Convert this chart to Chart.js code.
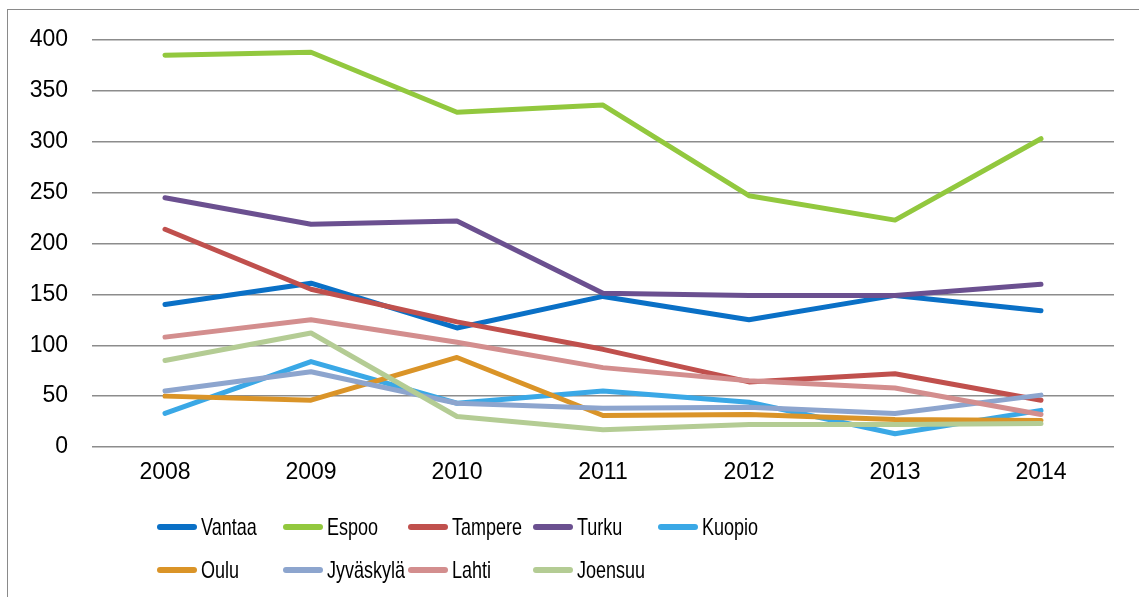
<!DOCTYPE html>
<html>
<head>
<meta charset="utf-8">
<script src="https://cdn.jsdelivr.net/npm/chart.js@4/dist/chart.umd.min.js"></script>
<style>
html,body{margin:0;padding:0;background:#fff;}
#wrap{position:relative;width:1139px;height:597px;overflow:hidden;}
#frame{position:absolute;left:7px;top:9px;width:1200px;height:700px;border-left:1.5px solid #8a8a8a;border-top:1.5px solid #8a8a8a;}
canvas{position:absolute;left:0;top:0;}
#legend{position:absolute;left:0;top:0;width:1139px;height:597px;pointer-events:none;}
.item{position:absolute;height:30px;display:flex;align-items:center;}
.sw{width:40px;height:6px;border-radius:3px;margin-right:4px;}
.lbl{font-family:"Liberation Sans",Arial,sans-serif;font-size:24px;color:#000;transform:scaleX(0.75);transform-origin:left center;white-space:nowrap;}
</style>
</head>
<body>
<div id="wrap">
<div id="frame"></div>
<canvas id="c" width="1139" height="597"></canvas>
<div id="legend"></div>
</div>
<script>
const years = ["2008","2009","2010","2011","2012","2013","2014"];
const seriesNames = ["Vantaa","Espoo","Tampere","Turku","Kuopio","Oulu","Jyväskylä","Lahti","Joensuu"];
const vantaa    = [140,161,117,148,125,149,134];
const espoo     = [385,388,329,336,247,223,303];
const tampere   = [214,155,123,96,64,72,46];
const turku     = [245,219,222,151,149,149,160];
const kuopio    = [33,84,43,55,44,13,36];
const oulu      = [50,46,88,31,32,27,26];
const jyvaskyla = [55,74,43,38,39,33,51];
const lahti     = [108,125,103,78,65,58,32];
const joensuu   = [85,112,30,17,22,22,23];
const colors = ["#0A70C6","#92C83E","#C0504D","#6B5090","#3AA8E6","#DA9428","#8DA5CE","#D38E8E","#B4CC94"];
const yTicks = [0,50,100,150,200,250,300,350,400];

const values = [vantaa,espoo,tampere,turku,kuopio,oulu,jyvaskyla,lahti,joensuu];
const datasets = seriesNames.map((n,i)=>({
  label:n, data:values[i], borderColor:colors[i], backgroundColor:colors[i],
  borderWidth:5, pointRadius:0, tension:0, fill:false, order:values.length-i,
  borderCapStyle:'round', borderJoinStyle:'round'
}));

new Chart(document.getElementById('c'),{
  type:'line',
  data:{labels:years,datasets},
  options:{
    responsive:false, animation:false,
    layout:{padding:{left:0,top:40,right:25,bottom:0}},
    plugins:{legend:{display:false},tooltip:{enabled:false}},
    scales:{
      x:{
        offset:true,
        grid:{display:false,drawTicks:false},
        border:{display:false},
        ticks:{color:'#000',font:{family:'"Liberation Sans", Arial, sans-serif',size:23},padding:12,maxRotation:0},
        afterFit:(s)=>{s.height=150;}
      },
      y:{
        min:0,max:400,
        afterBuildTicks:(s)=>{s.ticks=yTicks.map(v=>({value:v}));},
        grid:{color:'#8c8c8c',lineWidth:1.5,drawTicks:false},
        border:{display:false},
        ticks:{color:'#000',font:{family:'"Liberation Sans", Arial, sans-serif',size:23},padding:24},
        afterFit:(s)=>{s.width=92;}
      }
    }
  }
});

const lg = document.getElementById('legend');
const colX = [157,283,408,533,658];
const rowY = [527,570];
seriesNames.forEach((n,i)=>{
  const r = Math.floor(i/5), c = i%5;
  const d = document.createElement('div');
  d.className='item';
  d.style.left=colX[c]+'px';
  d.style.top=(rowY[r]-15)+'px';
  const sw=document.createElement('div');sw.className='sw';sw.style.background=colors[i];
  const t=document.createElement('span');t.className='lbl';t.textContent=n;
  d.appendChild(sw);d.appendChild(t);lg.appendChild(d);
});
</script>
</body>
</html>
